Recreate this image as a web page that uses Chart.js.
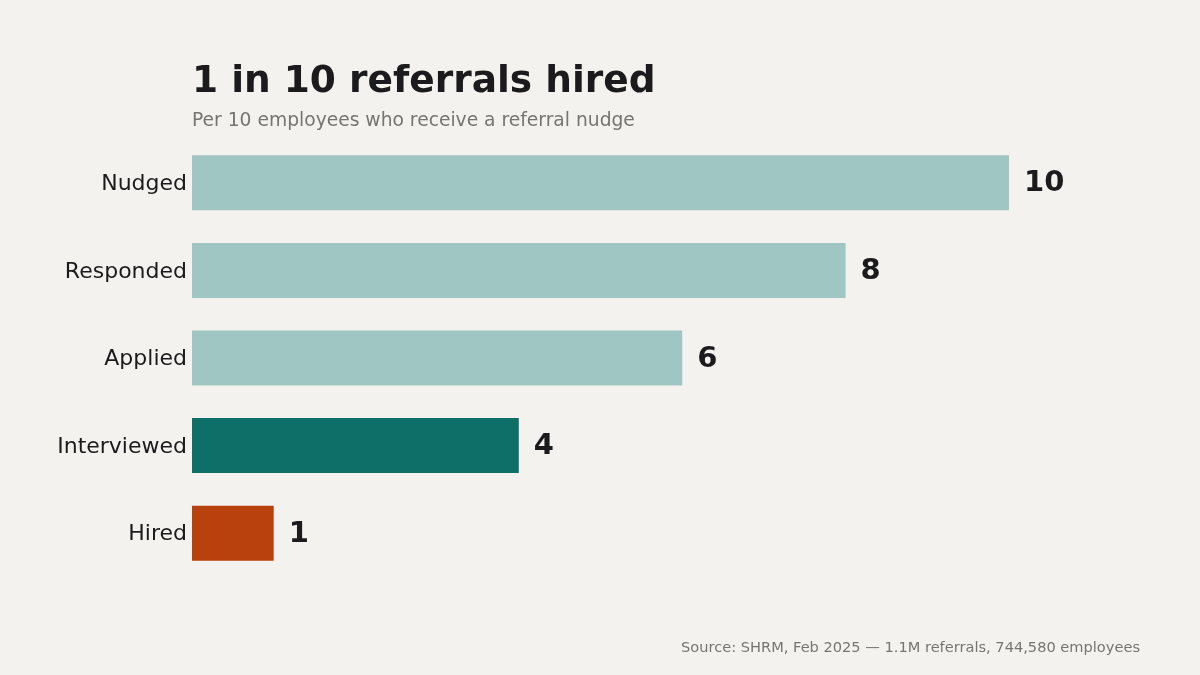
<!DOCTYPE html>
<html>
<head>
<meta charset="utf-8">
<script src="https://cdn.jsdelivr.net/npm/chart.js@4.4.0/dist/chart.umd.min.js"></script>
<style>
  html, body { margin: 0; padding: 0; background: #f3f2ee; }
  #wrap { position: relative; width: 1200px; height: 675px; font-family: "DejaVu Sans", sans-serif; }
  #title { position: absolute; left: 192px; top: 57px; font-size: 37.5px; font-weight: bold; color: #1b1b1d; }
  #subtitle { position: absolute; left: 192px; top: 108.5px; font-size: 18.7px; color: #77756f; }
  #source { position: absolute; right: 60px; top: 638px; font-size: 14.6px; color: #77756f; }
  canvas { position: absolute; left: 0; top: 0; }
</style>
</head>
<body>
<div id="wrap">
  <canvas id="chart" width="1200" height="675"></canvas>
  <div id="title">1 in 10 referrals hired</div>
  <div id="subtitle">Per 10 employees who receive a referral nudge</div>
  <div id="source">Source: SHRM, Feb 2025 — 1.1M referrals, 744,580 employees</div>
</div>
<script>
// Chart data
const stages = ["Nudged", "Responded", "Applied", "Interviewed", "Hired"];
const counts = [10, 8, 6, 4, 1];
const barColors = ["#9fc6c2", "#9fc6c2", "#9fc6c2", "#0e6f68", "#b9410e"];

// Draws the number just past the end of each bar
const valueLabels = {
  id: "valueLabels",
  afterDatasetsDraw(chart) {
    const ctx = chart.ctx;
    const meta = chart.getDatasetMeta(0);
    ctx.save();
    ctx.font = "bold 29px 'DejaVu Sans'";
    ctx.fillStyle = "#1b1b1d";
    ctx.textAlign = "left";
    ctx.textBaseline = "middle";
    meta.data.forEach((bar, i) => {
      ctx.fillText(String(counts[i]), bar.x + 15, bar.y + 1);
    });
    ctx.restore();
  },
};

new Chart(document.getElementById("chart"), {
  type: "bar",
  data: {
    labels: stages,
    datasets: [
      {
        data: counts,
        backgroundColor: barColors,
        borderWidth: 0,
        barPercentage: 0.628,
        categoryPercentage: 1,
      },
    ],
  },
  options: {
    indexAxis: "y",
    responsive: false,
    animation: false,
    layout: {
      padding: { top: 139, bottom: 98, left: 0, right: 191 },
    },
    plugins: {
      legend: { display: false },
      tooltip: { enabled: false },
    },
    scales: {
      x: {
        min: 0,
        max: 10,
        display: false,
      },
      y: {
        grid: { display: false, drawTicks: false },
        border: { display: false },
        ticks: {
          color: "#1b1b1d",
          font: { family: "DejaVu Sans", size: 22 },
          padding: 5,
          labelOffset: 1.5,
        },
        afterFit(scale) {
          scale.width = 192;
        },
      },
    },
  },
  plugins: [valueLabels],
});
</script>
</body>
</html>
